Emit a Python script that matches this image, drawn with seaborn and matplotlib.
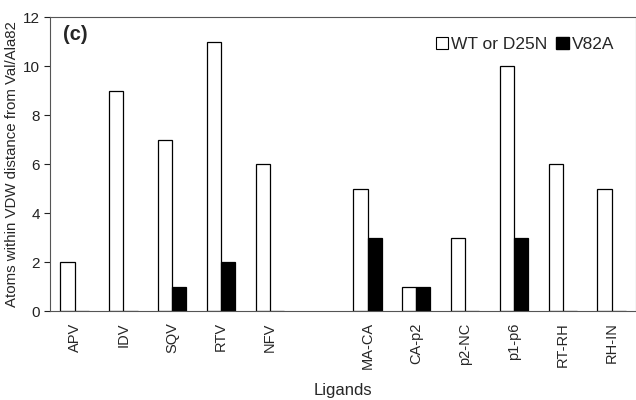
import matplotlib
matplotlib.use("Agg")
import matplotlib.pyplot as plt
import seaborn as sns
import pandas as pd
from matplotlib.patches import Patch

# data
ligands = ["APV", "IDV", "SQV", "RTV", "NFV", " ",
           "MA-CA", "CA-p2", "p2-NC", "p1-p6", "RT-RH", "RH-IN"]
wt_vals = [2, 9, 7, 11, 6, None, 5, 1, 3, 10, 6, 5]
v82a_vals = [0, 0, 1, 2, 0, None, 3, 1, 0, 3, 0, 0]
series = ["WT or D25N", "V82A"]

rows = []
for lig, w, v in zip(ligands, wt_vals, v82a_vals):
    if w is None:
        continue
    rows.append({"ligand": lig, "group": series[0], "atoms": w})
    rows.append({"ligand": lig, "group": series[1], "atoms": v})
df = pd.DataFrame(rows)

sns.set_style("ticks")
plt.rcParams["font.family"] = ["Liberation Sans", "DejaVu Sans"]

fig = plt.figure(figsize=(6.36, 4.0), dpi=100)
ax = fig.add_axes([0.079, 0.222, 0.921, 0.735])

sns.barplot(data=df, x="ligand", y="atoms", hue="group", order=ligands,
            hue_order=series, palette=["white", "black"], width=0.58,
            edgecolor="black", linewidth=0.9, ax=ax, legend=False, errorbar=None)

ax.set_xlim(-0.5, len(ligands) - 0.5)
ax.set_ylim(0, 12)
ax.set_yticks(range(0, 13, 2))
ax.tick_params(axis="y", direction="out", length=4, labelsize=11, colors="#222222")
ax.tick_params(axis="x", length=0, labelsize=10.5, labelrotation=90, pad=8)
for s in ax.spines.values():
    s.set_color("#555555")
    s.set_linewidth(0.8)

ax.set_ylabel("Atoms within VDW distance from Val/Ala82", fontsize=10.8, labelpad=3)
ax.set_xlabel("Ligands", fontsize=12, labelpad=10)

ax.text(0.022, 0.94, "(c)", transform=ax.transAxes, fontsize=14.5,
        fontweight="bold", va="center", ha="left")

handles = [Patch(facecolor="white", edgecolor="black", linewidth=0.8),
           Patch(facecolor="black", edgecolor="black")]
ax.legend(handles, series, loc="upper right", bbox_to_anchor=(0.99, 0.985),
          ncol=2, frameon=False, fontsize=12.5, handlelength=0.7, handleheight=0.7,
          handletextpad=0.2, columnspacing=0.5)

fig.savefig("out.png", dpi=100)
